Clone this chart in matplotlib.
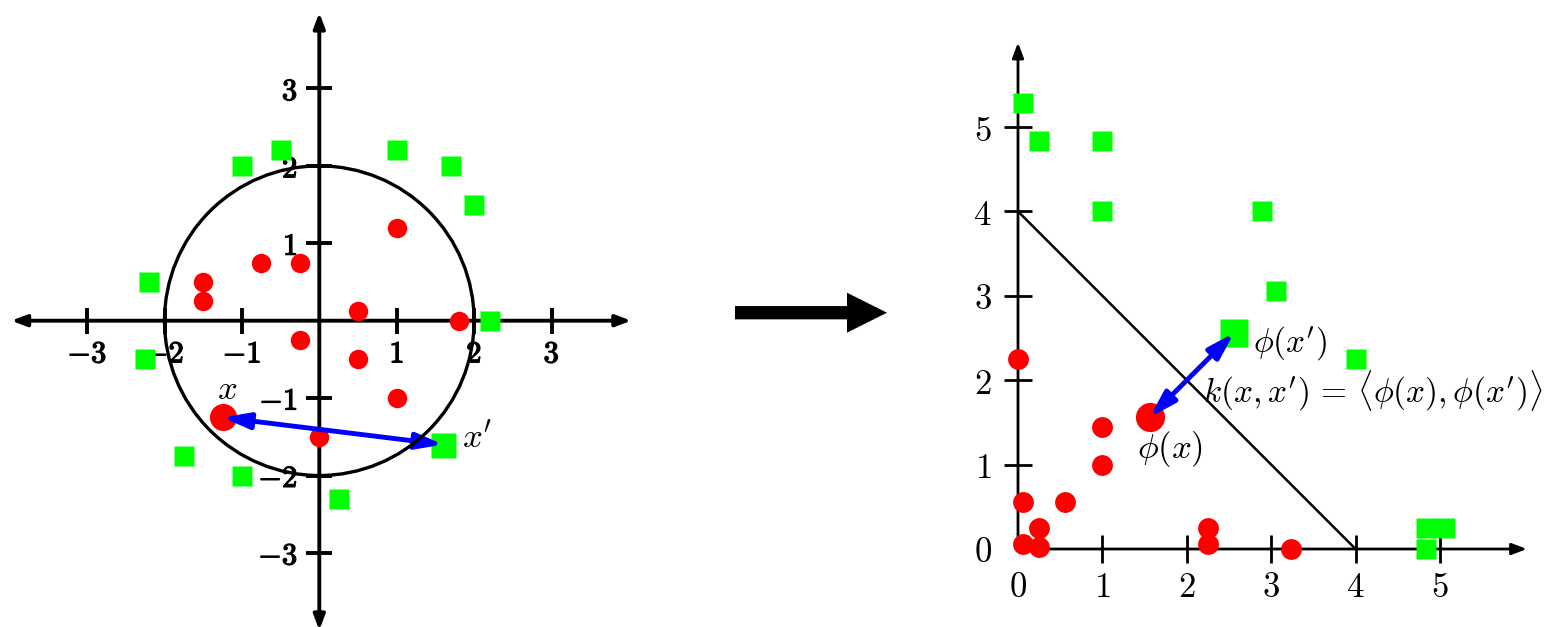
import matplotlib
matplotlib.use("Agg")
import matplotlib.pyplot as plt
from matplotlib.patches import Circle, FancyArrow
import matplotlib.patheffects as pe

plt.rcParams['mathtext.fontset'] = 'cm'

W, H = 1547, 627

# ---------------- data: input space ----------------
red_x = [1.0, -0.75, -0.25, -1.5, -1.5, 0.5, 1.8, -0.25, 0.5, 1.0, 0.0]
red_y = [1.2, 0.75, 0.75, 0.5, 0.25, 0.12, 0.0, -0.25, -0.5, -1.0, -1.5]
green_x = [-1.0, -0.5, 1.0, 1.7, 2.0, -2.2, 2.2, -2.25, -1.75, -1.0, 0.25]
green_y = [2.0, 2.2, 2.2, 2.0, 1.5, 0.5, 0.0, -0.5, -1.75, -2.0, -2.3]
x_pt = (-1.25, -1.25)
xp_pt = (1.6, -1.6)
circle_r = 2.0
left_ticks = [-3, -2, -1, 1, 2, 3]
left_ticklabels = [r'$-\mathbf{3}$', r'$-\mathbf{2}$', r'$-\mathbf{1}$',
                   r'$\mathbf{1}$', r'$\mathbf{2}$', r'$\mathbf{3}$']

# ---------------- data: feature space ----------------
fred_x = [0.0, 1.0, 1.0, 0.06, 0.56, 0.25, 0.06, 0.25, 2.25, 2.25, 3.24]
fred_y = [2.25, 1.44, 1.0, 0.56, 0.56, 0.25, 0.06, 0.02, 0.25, 0.06, 0.0]
fgreen_x = [0.06, 0.25, 1.0, 1.0, 2.89, 3.06, 4.0, 4.84, 5.06, 4.84]
fgreen_y = [5.29, 4.84, 4.84, 4.0, 4.0, 3.06, 2.25, 0.25, 0.25, 0.0]
phi_x = (1.56, 1.56)
phi_xp = (2.56, 2.56)
sep_line_x = [0, 4]
sep_line_y = [4, 0]
right_ticks = [0, 1, 2, 3, 4, 5]
right_ticklabels = ['$0$', '$1$', '$2$', '$3$', '$4$', '$5$']

RED = '#ff0000'
GREEN = '#00ff00'
BLUE = '#0000ff'

fig = plt.figure(figsize=(W / 100, H / 100), dpi=100)


def make_axes(ox, oy, s, xlim, ylim):
    left = (ox + s * xlim[0]) / W
    width = s * (xlim[1] - xlim[0]) / W
    bottom = (H - (oy - s * ylim[0])) / H
    height = s * (ylim[1] - ylim[0]) / H
    ax = fig.add_axes([left, bottom, width, height])
    ax.set_xlim(*xlim)
    ax.set_ylim(*ylim)
    for sp in ax.spines.values():
        sp.set_visible(False)
    ax.spines['left'].set_position(('data', 0))
    ax.spines['bottom'].set_position(('data', 0))
    ax.patch.set_alpha(0)
    return ax


AX_ARROW = '<|-|>,head_length=0.45,head_width=0.17'
BLUE_ARROW = '<|-|>,head_length=0.8,head_width=0.24'

# ---------------- left panel ----------------
axL = make_axes(319.3, 320.7, 77.4, (-4.1, 4.1), (-4.1, 4.1))
axL.annotate('', xy=(4.03, 0), xytext=(-3.98, 0),
             arrowprops=dict(arrowstyle=AX_ARROW, lw=2.8, color='black',
                             shrinkA=0, shrinkB=0, mutation_scale=20), zorder=2)
axL.annotate('', xy=(0, 3.98), xytext=(0, -4.0),
             arrowprops=dict(arrowstyle=AX_ARROW, lw=2.8, color='black',
                             shrinkA=0, shrinkB=0, mutation_scale=20), zorder=2)
axL.set_xticks(left_ticks, left_ticklabels)
axL.set_yticks(left_ticks, left_ticklabels)
axL.tick_params(axis='both', direction='inout', length=19, width=2.8,
                labelsize=22)
axL.tick_params(axis='x', pad=4)
axL.tick_params(axis='y', pad=6)
for lab in axL.get_xticklabels() + axL.get_yticklabels():
    lab.set_path_effects([pe.withStroke(linewidth=0.9, foreground='black')])
axL.plot(red_x, red_y, 'o', color=RED, ms=14, mec='none', zorder=4)
axL.plot(green_x, green_y, 's', color=GREEN, ms=13.7, mec='none', zorder=4)
axL.plot([x_pt[0]], [x_pt[1]], 'o', color=RED, ms=19.5, mec='none', zorder=4)
axL.plot([xp_pt[0]], [xp_pt[1]], 's', color=GREEN, ms=18, mec='none', zorder=4)
axL.annotate('', xy=xp_pt, xytext=x_pt,
             arrowprops=dict(arrowstyle=BLUE_ARROW, lw=3.5, color=BLUE,
                             shrinkA=0, shrinkB=0, mutation_scale=20), zorder=5)
axL.add_patch(Circle((0, 0), circle_r, fill=False, lw=2.4, color='black', zorder=5.5))
axL.text(-1.19, -0.88, '$x$', fontsize=25, ha='center', va='center', zorder=6)
axL.text(1.84, -1.5, "$x'$", fontsize=25, ha='left', va='center', zorder=6)

# ---------------- middle arrow ----------------
axM = fig.add_axes([720 / W, (H - 345) / H, 180 / W, 65 / H])
axM.set_xlim(0, 180)
axM.set_ylim(0, 65)
axM.axis('off')
axM.add_patch(FancyArrow(15, 32.3, 152, 0, width=13.3, head_width=40,
                         head_length=40, length_includes_head=True,
                         color='black', lw=0))

# ---------------- right panel ----------------
axR = make_axes(1018, 549, 84.4, (-0.6, 6.25), (-0.95, 6.25))
R_ARROW = '-|>,head_length=0.45,head_width=0.17'
axR.annotate('', xy=(6.03, 0), xytext=(0, 0),
             arrowprops=dict(arrowstyle=R_ARROW, lw=2.0, color='black',
                             shrinkA=0, shrinkB=0, mutation_scale=20), zorder=2)
axR.annotate('', xy=(0, 6.0), xytext=(0, 0),
             arrowprops=dict(arrowstyle=R_ARROW, lw=2.0, color='black',
                             shrinkA=0, shrinkB=0, mutation_scale=20), zorder=2)
axR.set_xticks(right_ticks, right_ticklabels)
axR.set_yticks(right_ticks, right_ticklabels)
axR.tick_params(axis='both', direction='inout', length=20, width=2.0,
                labelsize=25)
axR.tick_params(axis='x', pad=5)
axR.tick_params(axis='y', pad=9)
axR.xaxis.get_major_ticks()[0].tick1line.set_visible(False)
axR.yaxis.get_major_ticks()[0].tick1line.set_visible(False)
axR.plot(sep_line_x, sep_line_y, color='black', lw=1.8, zorder=3)
axR.plot(fred_x, fred_y, 'o', color=RED, ms=15, mec='none', zorder=4)
axR.plot(fgreen_x, fgreen_y, 's', color=GREEN, ms=14.2, mec='none', zorder=4)
axR.plot([phi_x[0]], [phi_x[1]], 'o', color=RED, ms=21, mec='none', zorder=4)
axR.plot([phi_xp[0]], [phi_xp[1]], 's', color=GREEN, ms=19.5, mec='none', zorder=4)
axR.annotate('', xy=phi_xp, xytext=phi_x,
             arrowprops=dict(arrowstyle=BLUE_ARROW, lw=3.5, color=BLUE,
                             shrinkA=0, shrinkB=0, mutation_scale=20), zorder=5)
axR.text(2.78, 2.44, r"$\phi(x')$", fontsize=24, ha='left', va='center', zorder=6)
axR.text(2.19, 1.87, r"$k(x,x')\,=\,\langle\phi(x),\phi(x')\rangle$", fontsize=24,
         ha='left', va='center', zorder=6)
axR.text(1.405, 1.18, r"$\phi(x)$", fontsize=25, ha='left', va='center', zorder=6)

fig.savefig('out.png', dpi=100)
